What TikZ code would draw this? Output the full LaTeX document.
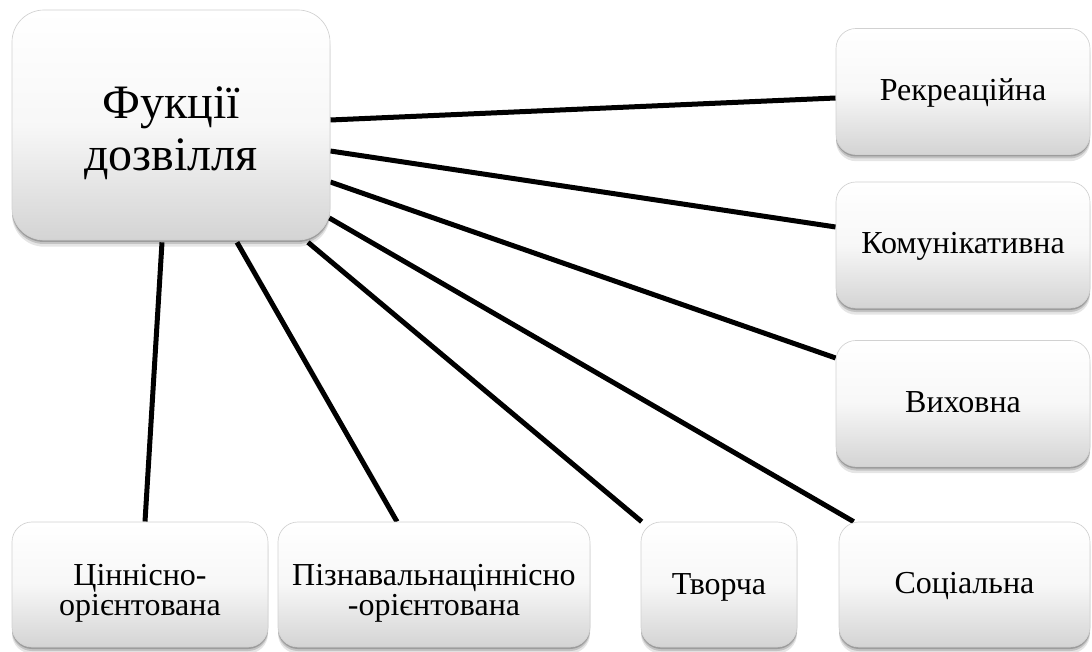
\documentclass[tikz,border=0pt]{standalone}
\usepackage{fontspec}
\setmainfont{Liberation Serif}
\newfontfamily\tnr{Liberation Serif}
\newcommand\shtext[2]{\raisebox{#1}[\height][\depth]{\begin{tabular}{@{}c@{}}#2\end{tabular}}}
\usetikzlibrary{shadows,calc,backgrounds}
\tikzset{
  box/.style={rectangle, rounded corners=#1, top color=white, bottom color=black!17,
    middle color=black!3, draw=black!18, line width=0.5pt,
    general shadow={fill=black, opacity=0.10, shadow xshift=0pt, shadow yshift=-5pt},
    general shadow={fill=black, opacity=0.15, shadow xshift=0pt, shadow yshift=-3pt},
    general shadow={fill=black, opacity=0.20, shadow xshift=0pt, shadow yshift=-1.5pt},
    align=center, inner sep=0pt, text=black},
  bigbox/.style={box=24pt, minimum width=238.5pt, minimum height=172.5pt,
    font=\tnr\fontsize{36}{39}\selectfont},
  smallbox/.style={box=15pt, minimum height=94.5pt,
    font=\tnr\fontsize{24}{22}\selectfont},
  link/.style={line width=3.75pt, black},
}
\begin{document}
\begin{tikzpicture}[x=0.75pt, y=-0.75pt]
\useasboundingbox (0,0) rectangle (1092,652);
\node[bigbox] (main) at (171,125) {\shtext{-6.5pt}{Фукції\\дозвілля}};
\node[smallbox, minimum width=190.5pt] (rek) at (963,91.5) {\shtext{-2pt}{Рекреаційна}};
\node[smallbox, minimum width=190.5pt] (kom) at (963,245) {\shtext{-1.5pt}{Комунікативна}};
\node[smallbox, minimum width=190.5pt] (vyh) at (963,403.5) {\shtext{-2pt}{Виховна}};
\node[smallbox, minimum width=192pt, minimum height=93.75pt] (cin) at (140,584.5) {\shtext{-7pt}{Ціннісно-\\орієнтована}};
\node[smallbox, minimum width=234pt, minimum height=93.75pt] (piz) at (434,584.5) {\shtext{-7pt}{Пізнавальнаціннісно\\-орієнтована}};
\node[smallbox, minimum width=117pt, minimum height=93.75pt] (tvo) at (719,584.5) {\shtext{-3pt}{Творча}};
\node[smallbox, minimum width=188.25pt, minimum height=93.75pt] (soc) at (964.5,584.5) {\shtext{-2pt}{Соціальна}};
\begin{scope}[on background layer]
\draw[link] ($(main.east)+(0,-5)$) -- ($(rek.west)+(0,6.5)$);
\draw[link] ($(main.east)+(0,26)$) -- ($(kom.west)+(0,-18)$);
\draw[link] ($(main.east)+(0,57)$) -- ($(vyh.west)+(0,-45.5)$);
\draw[link] ($(main.east)+(-1,93)$) -- ($(soc.north west)+(15,0)$);
\draw[link] ($(main.south)+(137,2)$) -- ($(tvo.north west)+(1,0)$);
\draw[link] ($(main.south)+(66,2)$) -- ($(piz.north)+(-37,0)$);
\draw[link] ($(main.south)+(-9,2)$) -- ($(cin.north)+(5,0)$);
\end{scope}
\end{tikzpicture}
\end{document}
